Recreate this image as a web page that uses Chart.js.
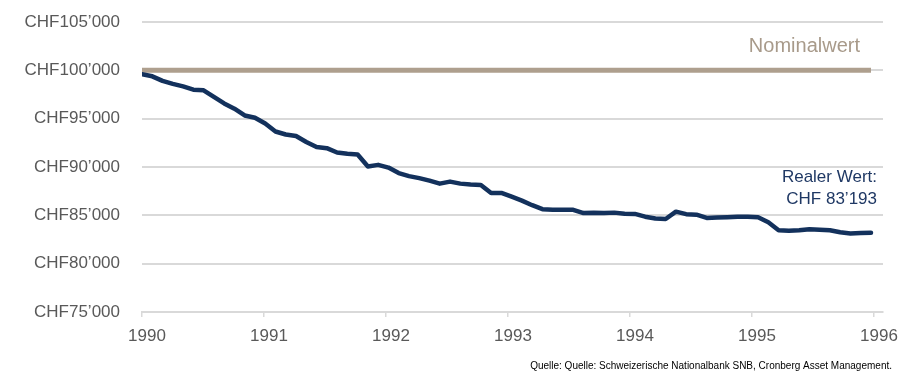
<!DOCTYPE html>
<html>
<head>
<meta charset="utf-8">
<script src="https://cdn.jsdelivr.net/npm/chart.js@4/dist/chart.umd.min.js"></script>
<style>
  html, body { margin: 0; padding: 0; background: #fff; }
  #wrap { width: 905px; height: 380px; position: relative; }
</style>
</head>
<body>
<div id="wrap"><canvas id="chart"></canvas></div>
<script>
// Monatswerte Jan 1990 - Dez 1995 (Realwert von CHF 100'000)
const realValues = [
  99590, 99380, 98910, 98600, 98340, 98000, 97930, 97250, 96580, 96030, 95330, 95090,
  94500, 93670, 93360, 93210, 92590, 92070, 91950, 91500, 91360, 91290, 90050, 90220,
  89940, 89370, 89060, 88850, 88590, 88280, 88490, 88280, 88200, 88150, 87300, 87320,
  86930, 86520, 86050, 85640, 85590, 85590, 85570, 85230, 85260, 85230, 85280, 85170,
  85150, 84860, 84670, 84620, 85380, 85120, 85070, 84730, 84770, 84810, 84860, 84860,
  84810, 84290, 83460, 83410, 83460, 83560, 83510, 83460, 83250, 83130, 83170, 83193
];
const nominalValues = realValues.map(() => 100000);
const years = [1990, 1991, 1992, 1993, 1994, 1995, 1996];
const yTicks = [75000, 80000, 85000, 90000, 95000, 100000, 105000];

const fmt = v => 'CHF' + String(v).replace(/\B(?=(\d{3})+(?!\d))/g, '’');

/* ---------- TEXT OVERLAY ---------- */
const labelsPlugin = {
  id: 'labels',
  afterDraw(chart) {
    const { ctx, chartArea } = chart;
    const y = chart.scales.y;
    ctx.save();
    ctx.textBaseline = 'middle';
    ctx.textAlign = 'right';

    ctx.font = '20px "Liberation Sans", Arial, sans-serif';
    ctx.fillStyle = '#a89a8a';
    ctx.fillText('Nominalwert', chartArea.right - 23, y.getPixelForValue(100000) - 24);

    ctx.font = '17px "Liberation Sans", Arial, sans-serif';
    ctx.fillStyle = '#1f3864';
    ctx.fillText('Realer Wert:', chartArea.right - 6, y.getPixelForValue(100000) + 107);
    ctx.fillText('CHF 83’193', chartArea.right - 6, y.getPixelForValue(100000) + 129);

    ctx.font = '10px "Liberation Sans", Arial, sans-serif';
    ctx.fillStyle = '#000';
    ctx.fillText('Quelle: Quelle: Schweizerische Nationalbank SNB, Cronberg Asset Management.', 892, 366);
    ctx.restore();
  }
};

/* ---------- CHART ---------- */
const lastIdx = realValues.length - 1;
new Chart(document.getElementById('chart'), {
  type: 'line',
  data: {
    labels: realValues.map((_, i) => i),
    datasets: [
      { label: 'Realer Wert', data: realValues.map((v, i) => ({ x: i, y: v })), xAxisID: 'm',
        borderColor: '#13315c', borderWidth: 4.5, pointRadius: 0, tension: 0, order: 0,
        borderJoinStyle: 'round', borderCapStyle: 'round' },
      { label: 'Nominalwert', data: nominalValues.map((v, i) => ({ x: i, y: v })), xAxisID: 'm',
        borderColor: '#ae9f8e', borderWidth: 5, pointRadius: 0, tension: 0, order: 1 }
    ]
  },
  options: {
    responsive: true,
    maintainAspectRatio: false,
    animation: false,
    layout: { padding: { top: 22, right: 22, bottom: 0, left: 0 } },
    plugins: { legend: { display: false }, tooltip: { enabled: false } },
    scales: {
      m: {
        type: 'linear', display: false, min: 0, max: lastIdx * 741 / 729
      },
      x: {
        type: 'linear', position: 'bottom',
        min: years[0], max: years[0] + 741 / 122,
        afterFit: s => { s.height = 68; s.paddingLeft = 0; s.paddingRight = 0; },
        afterBuildTicks: s => { s.ticks = years.map(v => ({ value: v })); },
        grid: { drawOnChartArea: false, color: '#d9d9d9', lineWidth: 1.5, tickLength: 5 },
        border: { display: true, color: '#d9d9d9', width: 2 },
        ticks: { color: '#595959', padding: 9, labelOffset: 5, maxRotation: 0,
          font: { family: '"Liberation Sans", Arial, sans-serif', size: 17 },
          callback: v => String(v) }
      },
      y: {
        type: 'linear', min: 75000, max: 105000,
        afterFit: s => { s.width = 142; s.paddingTop = 0; s.paddingBottom = 0; },
        afterBuildTicks: s => { s.ticks = yTicks.map(v => ({ value: v })); },
        grid: { color: '#d9d9d9', lineWidth: 2, drawTicks: false },
        border: { display: false },
        ticks: { color: '#595959', padding: 22,
          font: { family: '"Liberation Sans", Arial, sans-serif', size: 17 },
          callback: v => fmt(v) }
      }
    }
  },
  plugins: [labelsPlugin]
});
</script>
</body>
</html>
